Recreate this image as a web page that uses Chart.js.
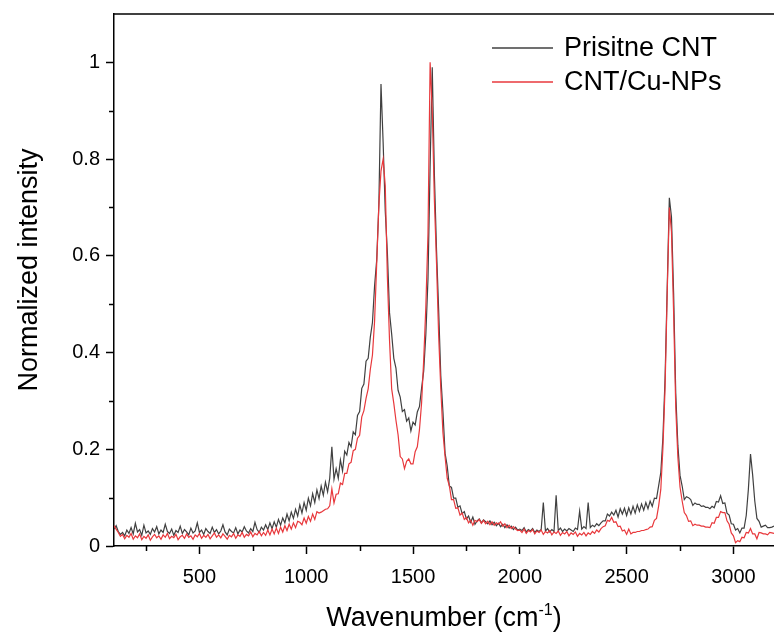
<!DOCTYPE html>
<html><head><meta charset="utf-8">
<script src="https://cdn.jsdelivr.net/npm/chart.js@4.4.1/dist/chart.umd.min.js"></script>
<style>html,body{margin:0;padding:0;background:#fff;}#wrap{width:774px;height:634px;position:relative;}</style>
</head><body><div id="wrap"><canvas id="c" width="774" height="634"></canvas></div>
<script>
// Sampling of the spectra: 100 to 3200 cm-1 every 10 cm-1
const WN_START = 100;
const WN_STEP = 10;

const seriesLabels = ['Prisitne CNT', 'CNT/Cu-NPs'];
const xAxisTitle = ['Wavenumber (cm', '-1', ')'];
const yAxisTitle = 'Normalized intensity';

const pristineCNT = [
0.035,0.042,0.030,0.024,0.028,0.021,0.033,0.026,0.038,0.025,
0.047,0.029,0.034,0.022,0.043,0.027,0.031,0.024,0.036,0.029,
0.040,0.025,0.033,0.028,0.045,0.030,0.026,0.035,0.022,0.032,
0.028,0.041,0.026,0.034,0.029,0.023,0.037,0.027,0.031,0.048,
0.028,0.033,0.024,0.036,0.030,0.026,0.039,0.028,0.034,0.025,
0.031,0.044,0.029,0.023,0.035,0.030,0.027,0.038,0.025,0.033,
0.029,0.040,0.031,0.027,0.036,0.030,0.049,0.034,0.028,0.039,
0.033,0.044,0.034,0.048,0.036,0.050,0.039,0.055,0.043,0.058,
0.048,0.066,0.052,0.070,0.057,0.076,0.062,0.085,0.068,0.090,
0.074,0.099,0.083,0.108,0.090,0.116,0.098,0.124,0.105,0.132,
0.112,0.140,0.205,0.138,0.160,0.140,0.178,0.155,0.196,0.188,
0.214,0.205,0.236,0.230,0.270,0.278,0.326,0.335,0.382,0.388,
0.432,0.462,0.538,0.592,0.705,0.955,0.835,0.692,0.606,0.482,
0.438,0.388,0.368,0.322,0.308,0.278,0.282,0.258,0.265,0.238,
0.256,0.250,0.277,0.288,0.326,0.362,0.438,0.552,0.785,0.990,
0.768,0.612,0.488,0.352,0.278,0.192,0.165,0.124,0.121,0.099,
0.099,0.080,0.083,0.067,0.071,0.056,0.062,0.049,0.060,0.045,
0.052,0.056,0.048,0.054,0.050,0.046,0.052,0.044,0.049,0.042,
0.047,0.040,0.045,0.038,0.044,0.037,0.041,0.034,0.039,0.033,
0.035,0.032,0.038,0.029,0.034,0.031,0.036,0.028,0.033,0.030,
0.034,0.090,0.031,0.036,0.029,0.034,0.030,0.105,0.032,0.037,
0.030,0.035,0.031,0.036,0.033,0.030,0.037,0.034,0.072,0.035,
0.040,0.036,0.090,0.038,0.043,0.040,0.046,0.042,0.048,0.052,
0.052,0.066,0.062,0.070,0.064,0.074,0.060,0.077,0.066,0.078,
0.063,0.079,0.066,0.082,0.068,0.085,0.072,0.087,0.074,0.090,
0.077,0.093,0.082,0.099,0.098,0.125,0.152,0.225,0.347,0.533,
0.720,0.680,0.523,0.316,0.208,0.146,0.124,0.096,0.102,0.100,
0.096,0.084,0.089,0.086,0.086,0.082,0.083,0.080,0.080,0.077,
0.082,0.079,0.092,0.091,0.104,0.088,0.089,0.068,0.064,0.046,
0.045,0.033,0.036,0.027,0.037,0.037,0.063,0.117,0.190,0.147,
0.093,0.057,0.051,0.039,0.041,0.043,0.038,0.038,0.039,0.041,
0.038
];

const cntCuNPs = [
0.042,0.035,0.028,0.020,0.024,0.015,0.022,0.018,0.026,0.014,
0.021,0.017,0.025,0.013,0.020,0.016,0.023,0.012,0.019,0.024,
0.017,0.021,0.014,0.023,0.018,0.026,0.015,0.020,0.017,0.024,
0.013,0.019,0.022,0.016,0.025,0.018,0.021,0.014,0.023,0.019,
0.026,0.016,0.022,0.018,0.024,0.015,0.021,0.027,0.018,0.023,
0.017,0.025,0.020,0.014,0.022,0.019,0.026,0.016,0.023,0.020,
0.028,0.018,0.024,0.021,0.029,0.019,0.026,0.023,0.030,0.021,
0.028,0.022,0.033,0.023,0.035,0.025,0.037,0.026,0.039,0.029,
0.042,0.032,0.045,0.035,0.048,0.038,0.051,0.049,0.044,0.058,
0.047,0.061,0.051,0.066,0.055,0.071,0.068,0.070,0.073,0.076,
0.077,0.083,0.118,0.089,0.107,0.108,0.130,0.127,0.150,0.150,
0.170,0.173,0.197,0.200,0.223,0.229,0.267,0.280,0.305,0.325,
0.365,0.395,0.465,0.585,0.705,0.775,0.800,0.745,0.555,0.425,
0.325,0.295,0.260,0.230,0.185,0.180,0.160,0.175,0.180,0.170,
0.170,0.195,0.205,0.240,0.295,0.385,0.495,0.645,1.000,0.900,
0.715,0.585,0.435,0.325,0.235,0.185,0.140,0.125,0.096,0.096,
0.078,0.079,0.064,0.068,0.055,0.059,0.048,0.053,0.043,0.053,
0.050,0.055,0.047,0.053,0.046,0.051,0.044,0.050,0.043,0.048,
0.045,0.050,0.041,0.046,0.038,0.043,0.036,0.040,0.035,0.032,
0.033,0.028,0.035,0.026,0.032,0.029,0.034,0.025,0.031,0.028,
0.033,0.024,0.030,0.027,0.032,0.023,0.029,0.026,0.031,0.022,
0.028,0.025,0.030,0.021,0.027,0.024,0.029,0.020,0.026,0.023,
0.028,0.021,0.027,0.024,0.030,0.026,0.033,0.029,0.036,0.040,
0.042,0.053,0.051,0.059,0.049,0.050,0.040,0.041,0.031,0.033,
0.024,0.035,0.025,0.028,0.028,0.030,0.030,0.032,0.032,0.034,
0.035,0.039,0.040,0.053,0.057,0.083,0.117,0.203,0.327,0.523,
0.700,0.650,0.483,0.287,0.183,0.122,0.093,0.069,0.063,0.051,
0.052,0.042,0.045,0.043,0.043,0.041,0.041,0.039,0.039,0.038,
0.048,0.047,0.059,0.059,0.071,0.069,0.069,0.052,0.045,0.027,
0.021,0.007,0.011,0.009,0.018,0.017,0.028,0.027,0.036,0.025,
0.025,0.015,0.028,0.027,0.025,0.025,0.023,0.028,0.027,0.026,
0.026
];

const xMajorTicks = [500, 1000, 1500, 2000, 2500, 3000];
const xMinorTicks = [250, 750, 1250, 1750, 2250, 2750];
const yMajorTicks = [0, 0.2, 0.4, 0.6, 0.8, 1];
const yMinorTicks = [0.1, 0.3, 0.5, 0.7, 0.9];

const wavenumbers = pristineCNT.map((_, i) => WN_START + WN_STEP * i);

const FONT = '"Liberation Sans", Arial, sans-serif';
Chart.defaults.font.family = FONT;
const COLORS = ['#404040', '#e8383c'];

const decorPlugin = {
  id: 'decor',
  afterDraw(chart) {
    const ctx = chart.ctx;
    const xs = chart.scales.x, ys = chart.scales.y;
    const ca = chart.chartArea;
    ctx.save();
    ctx.strokeStyle = '#000';
    ctx.lineWidth = 1.5;
    ctx.beginPath();
    xMinorTicks.forEach(v => {
      const px = Math.round(xs.getPixelForValue(v)) + 0.5;
      if (px >= ca.left && px <= ca.right) { ctx.moveTo(px, ca.bottom); ctx.lineTo(px, ca.bottom + 5); }
    });
    yMinorTicks.forEach(v => {
      const py = Math.round(ys.getPixelForValue(v)) + 0.5;
      ctx.moveTo(ca.left - 5, py); ctx.lineTo(ca.left, py);
    });
    ctx.stroke();
    ctx.beginPath();
    ctx.moveTo(ca.left, ca.top); ctx.lineTo(ca.right, ca.top);
    ctx.stroke();
    // legend
    const rows = [{y: 48}, {y: 82}];
    ctx.font = '27px ' + FONT;
    ctx.textBaseline = 'middle';
    ctx.fillStyle = '#000';
    chart.data.datasets.forEach((ds, i) => {
      const r = rows[i];
      ctx.strokeStyle = ds.borderColor;
      ctx.lineWidth = 1.4;
      ctx.beginPath(); ctx.moveTo(492, r.y); ctx.lineTo(553, r.y); ctx.stroke();
      ctx.fillText(ds.label, 564, r.y + 1);
    });
    // x-axis title with superscript
    const [main, sup, tail] = xAxisTitle;
    ctx.font = '27px ' + FONT;
    const w1 = ctx.measureText(main).width, w3 = ctx.measureText(tail).width;
    ctx.font = '16px ' + FONT;
    const w2 = ctx.measureText(sup).width;
    const total = w1 + w2 + w3;
    const x0 = (ca.left + ca.right) / 2 - total / 2;
    const base = 626;
    ctx.textBaseline = 'alphabetic';
    ctx.textAlign = 'left';
    ctx.font = '27px ' + FONT;
    ctx.fillText(main, x0, base);
    ctx.font = '16px ' + FONT;
    ctx.fillText(sup, x0 + w1, base - 11);
    ctx.font = '27px ' + FONT;
    ctx.fillText(tail, x0 + w1 + w2, base);
    // y-axis title
    ctx.save();
    ctx.translate(30, 270);
    ctx.rotate(-Math.PI / 2);
    ctx.textAlign = 'center';
    ctx.textBaseline = 'middle';
    ctx.font = '27px ' + FONT;
    ctx.fillText(yAxisTitle, 0, 0);
    ctx.restore();
    ctx.restore();
  }
};

new Chart(document.getElementById('c'), {
  type: 'line',
  data: {
    datasets: [
      { label: seriesLabels[0], data: wavenumbers.map((x, i) => ({x, y: pristineCNT[i]})),
        borderColor: COLORS[0], borderWidth: 1.2, pointRadius: 0, tension: 0, order: 2 },
      { label: seriesLabels[1], data: wavenumbers.map((x, i) => ({x, y: cntCuNPs[i]})),
        borderColor: COLORS[1], borderWidth: 1.2, pointRadius: 0, tension: 0, order: 1 }
    ]
  },
  options: {
    responsive: false, animation: false,
    layout: { padding: { top: 14, right: 0, left: 0, bottom: 0 } },
    plugins: { legend: { display: false }, tooltip: { enabled: false } },
    scales: {
      x: {
        type: 'linear', min: 100, max: 3190,
        afterFit(s) { s.height = 88; s.paddingLeft = 0; s.paddingRight = 0; },
        afterBuildTicks(s) { s.ticks = xMajorTicks.map(v => ({value: v})); },
        ticks: { color: '#000', font: { size: 20 }, padding: 11, maxRotation: 0, autoSkip: false, callback: v => String(v) },
        grid: { drawOnChartArea: false, drawTicks: true, tickLength: 8, tickColor: '#000', tickWidth: 1.5 },
        border: { color: '#000', width: 1.5 }
      },
      y: {
        min: 0, max: 1.1,
        afterFit(s) { s.width = 114; s.paddingTop = 0; s.paddingBottom = 0; },
        afterBuildTicks(s) { s.ticks = yMajorTicks.map(v => ({value: v})); },
        ticks: { color: '#000', font: { size: 20 }, padding: 6, callback: v => String(+Number(v).toFixed(1)) },
        grid: { drawOnChartArea: false, drawTicks: true, tickLength: 8, tickColor: '#000', tickWidth: 1.5 },
        border: { color: '#000', width: 1.5 },
        title: { display: false }
      }
    }
  },
  plugins: [decorPlugin]
});
</script>
</body></html>
